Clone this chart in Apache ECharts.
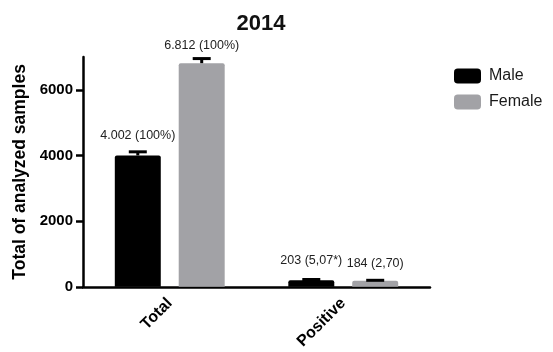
<!DOCTYPE html>
<html>
<head>
<meta charset="utf-8">
<script src="https://cdn.jsdelivr.net/npm/echarts@6/dist/echarts.min.js"></script>
<style>
  html, body { margin: 0; padding: 0; background: #fff; }
  #chart { width: 553px; height: 352px; }
</style>
</head>
<body>
<div id="chart"></div>
<script>
// Analyzed samples by sex, 2014
const categories = ['Total', 'Positive'];
const maleValues = [4002, 203];
const femaleValues = [6812, 184];
const maleErrors = [110, 20];
const femaleErrors = [140, 15];
const maleLabels = ['4.002 (100%)', '203 (5,07*)'];
const femaleLabels = ['6.812 (100%)', '184 (2,70)'];
const yTicks = [0, 2000, 4000, 6000];

const FONT = 'Liberation Sans, Arial, sans-serif';
const MALE_COLOR = '#000000';
const FEMALE_COLOR = '#a2a2a6';
const BAR_WIDTH = 0.265;   // fraction of a category band
const BAR_GAP = 0.39;      // fraction of bar width

// centre offset of each bar inside its band
const groupWidth = 2 * BAR_WIDTH + BAR_GAP * BAR_WIDTH;
const offsets = [-groupWidth / 2 + BAR_WIDTH / 2, groupWidth / 2 - BAR_WIDTH / 2];

function errorSeries(values, errors, seriesIdx) {
  return {
    type: 'custom',
    z: 5,
    silent: true,
    data: values.map((v, i) => [i, v, v + errors[i]]),
    renderItem: function (params, api) {
      const band = api.size([1, 0])[0];
      const dx = offsets[seriesIdx] * band;
      const base = api.coord([api.value(0), api.value(1)]);
      const top = api.coord([api.value(0), api.value(2)]);
      const x = base[0] + dx;
      const cap = 9;
      return {
        type: 'group',
        children: [
          { type: 'line', shape: { x1: x, y1: base[1], x2: x, y2: top[1] },
            style: { stroke: '#000', lineWidth: 3 } },
          { type: 'line', shape: { x1: x - cap, y1: top[1], x2: x + cap, y2: top[1] },
            style: { stroke: '#000', lineWidth: 3 } }
        ]
      };
    }
  };
}

const chart = echarts.init(document.getElementById('chart'), null, { renderer: 'canvas' });

chart.setOption({
  animation: false,
  backgroundColor: '#ffffff',
  title: {
    text: '2014',
    left: 256,
    top: 8,
    textAlign: 'center',
    textStyle: { fontFamily: FONT, fontSize: 22, fontWeight: 'bold', color: '#111' }
  },
  legend: {
    left: 449,
    top: 63,
    orient: 'vertical',
    itemWidth: 27,
    itemHeight: 15,
    itemGap: 10,
    icon: 'roundRect',
    data: ['Male', 'Female'],
    textStyle: { fontFamily: FONT, fontSize: 16, color: '#1a1a1a', padding: [0, 0, 0, 3] }
  },
  grid: { left: 83, right: 123, top: 57, bottom: 65, containLabel: false },
  xAxis: {
    type: 'category',
    data: categories,
    axisLine: { lineStyle: { color: '#000', width: 2.5 } },
    axisTick: { alignWithLabel: true, length: 6, lineStyle: { color: '#000', width: 2.5 } },
    axisLabel: {
      rotate: 45,
      margin: 14,
      fontFamily: FONT,
      fontSize: 16,
      fontWeight: 'bold',
      color: '#000'
    }
  },
  yAxis: {
    type: 'value',
    min: 0,
    max: 7000,
    name: 'Total of analyzed samples',
    nameLocation: 'middle',
    nameGap: 54,
    nameTextStyle: { fontFamily: FONT, fontSize: 17.5, fontWeight: 'bold', color: '#000' },
    splitLine: { show: false },
    axisLine: { show: true, lineStyle: { color: '#000', width: 2.5 } },
    axisTick: { show: true, length: 7, customValues: yTicks, lineStyle: { color: '#000', width: 2.5 } },
    axisLabel: {
      customValues: yTicks,
      formatter: v => String(v),
      margin: 10,
      fontFamily: FONT,
      fontSize: 15,
      fontWeight: 'bold',
      color: '#000'
    }
  },
  series: [
    {
      name: 'Male',
      type: 'bar',
      data: maleValues,
      barWidth: (BAR_WIDTH * 100) + '%',
      barGap: (BAR_GAP * 100) + '%',
      itemStyle: { color: MALE_COLOR, borderRadius: [2, 2, 0, 0] },
      label: {
        show: true,
        position: 'top',
        distance: 13,
        formatter: p => maleLabels[p.dataIndex],
        fontFamily: FONT,
        fontSize: 12.5,
        color: '#222'
      }
    },
    {
      name: 'Female',
      type: 'bar',
      data: femaleValues,
      barWidth: (BAR_WIDTH * 100) + '%',
      itemStyle: { color: FEMALE_COLOR, borderRadius: [2, 2, 0, 0] },
      label: {
        show: true,
        position: 'top',
        distance: 11,
        formatter: p => femaleLabels[p.dataIndex],
        fontFamily: FONT,
        fontSize: 12.5,
        color: '#222'
      }
    },
    errorSeries(maleValues, maleErrors, 0),
    errorSeries(femaleValues, femaleErrors, 1)
  ]
});
</script>
</body>
</html>
